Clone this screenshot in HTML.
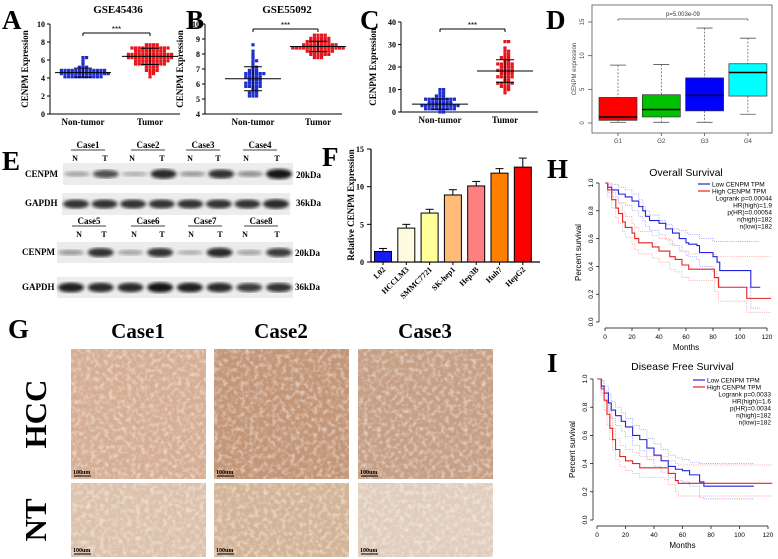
<!DOCTYPE html>
<html><head><meta charset="utf-8"><style>
body{margin:0;background:#fff}
svg{display:block}
</style></head><body>
<svg id="fig" width="778" height="559" viewBox="0 0 778 559" xmlns="http://www.w3.org/2000/svg">
<defs>
<filter id="blur1"><feGaussianBlur stdDeviation="1.6"/></filter>
<filter id="tex" x="0" y="0" width="100%" height="100%">
<feTurbulence type="fractalNoise" baseFrequency="0.22" numOctaves="2" seed="5"/>
<feColorMatrix type="matrix" values="0 0 0 0 1  0 0 0 0 1  0 0 0 0 1  0 0 0 -2.2 1.25"/>
</filter>
</defs>
<g id="root"></g>
</svg>
<script>
// ---------- data ----------
const A_non=[4.0,4.1,4.1,4.2,4.2,4.2,4.3,4.3,4.3,4.3,4.4,4.4,4.4,4.4,4.5,4.5,4.5,4.5,4.5,4.6,4.6,4.6,4.6,4.7,4.7,4.7,4.7,4.8,4.8,4.8,4.8,4.9,4.9,4.9,5.0,5.0,5.1,5.2,5.3,5.5,6.0,6.1,6.2,4.2,4.4];
const A_tum=[4.2,4.4,4.6,4.8,4.9,5.0,5.1,5.2,5.3,5.3,5.4,5.5,5.5,5.6,5.6,5.7,5.7,5.8,5.8,5.8,5.9,5.9,5.9,6.0,6.0,6.0,6.1,6.1,6.1,6.2,6.2,6.2,6.3,6.3,6.3,6.4,6.4,6.4,6.5,6.5,6.5,6.6,6.6,6.6,6.7,6.7,6.7,6.8,6.8,6.8,6.9,6.9,6.9,7.0,7.0,7.0,7.1,7.1,7.1,7.2,7.2,7.2,7.3,7.3,7.3,7.4,7.4,7.5,7.5,7.6,7.6,7.7,7.8,5.0,5.4,5.6,6.0,6.4,6.8,7.2];
const B_non=[5.2,5.2,5.3,5.4,5.5,5.5,5.6,5.7,5.8,5.8,5.9,5.9,6.0,6.0,6.1,6.1,6.2,6.2,6.3,6.3,6.4,6.4,6.5,6.5,6.6,6.6,6.7,6.8,6.8,6.9,7.0,7.0,7.1,7.2,7.3,7.5,7.6,7.8,8.0,8.2,8.6,6.1,5.9,6.4,6.7];
const B_tum=[7.7,7.8,7.8,7.9,7.9,8.0,8.0,8.0,8.1,8.1,8.1,8.2,8.2,8.2,8.3,8.3,8.3,8.3,8.4,8.4,8.4,8.4,8.5,8.5,8.5,8.5,8.6,8.6,8.6,8.6,8.7,8.7,8.7,8.7,8.8,8.8,8.8,8.9,8.9,8.9,9.0,9.0,9.0,9.1,9.1,9.2,9.2,9.3,9.3,8.0,8.2,8.4,8.6,8.8,9.0,8.1,8.3,8.5,8.7];
const C_non=[0.3,0.5,0.8,1.0,1.2,1.5,1.5,1.8,2.0,2.0,2.2,2.5,2.5,2.8,3.0,3.0,3.2,3.5,3.5,3.8,4.0,4.0,4.2,4.5,4.5,4.8,5.0,5.0,5.2,5.5,5.5,5.8,6.0,6.0,6.2,6.5,7.0,7.5,8.0,8.5,10.0,10.5,1.0,2.5,3.5];
const C_tum=[9,10,10.5,11,11.5,12,12.5,13,13,13.5,14,14.5,15,15,15.5,16,16.5,17,17,17.5,18,18,18.5,19,19.5,20,20,20.5,21,21.5,22,22,22.5,23,23.5,24,24,25,26,26.5,27,29,31,31.5,16,19,21,13];
const A_stats=[[4.6,0.5],[6.4,0.9]];
const B_stats=[[6.35,0.8],[8.5,0.35]];
const C_stats=[[3.5,2.3],[18.2,5.0]];
const D_groups=["G1","G2","G3","G4"];
const D_q1=[0.4,0.9,1.8,4.0];
const D_med=[0.9,2.0,4.1,7.5];
const D_q3=[3.8,4.2,6.7,8.8];
const D_lo=[0.1,0.1,0.1,1.3];
const D_hi=[8.6,8.7,14.1,12.6];
const D_ticks=[0,5,10,15];
const F_lines=["L02","HCCLM3","SMMC7721","SK-hep1","Hep3B","Huh7","HepG2"];
const F_vals=[1.4,4.5,6.5,8.9,10.1,11.8,12.6];
const F_err=[0.4,0.5,0.5,0.7,0.6,0.6,1.2];
const F_ticks=[0,5,10,15];
const H_low_t=[0,2,5,10,15,20,25,28,30,33,40,45,50,55,60,62,68,70,80,83,85,108,115];
const H_low_s=[1,0.97,0.95,0.92,0.9,0.87,0.83,0.8,0.76,0.73,0.71,0.67,0.64,0.6,0.57,0.56,0.55,0.5,0.47,0.43,0.37,0.25,0.25];
const H_high_t=[0,2,5,8,10,13,15,20,22,25,35,40,48,52,57,62,81,84,105,123];
const H_high_s=[1,0.95,0.88,0.82,0.78,0.72,0.68,0.64,0.6,0.57,0.54,0.51,0.47,0.45,0.41,0.38,0.32,0.25,0.17,0.17];
const H_low_up=[1,1,0.99,0.97,0.95,0.92,0.88,0.83,0.8,0.77,0.73,0.7,0.67,0.66,0.64,0.63,0.63,0.6,0.58,0.58,0.58,0.58,0.58];
const H_low_dn=[1,0.93,0.9,0.86,0.84,0.8,0.76,0.73,0.69,0.66,0.63,0.59,0.55,0.51,0.48,0.47,0.45,0.4,0.36,0.32,0.25,0.1,0.1];
const H_high_up=[1,0.99,0.93,0.88,0.85,0.79,0.76,0.71,0.68,0.65,0.62,0.6,0.56,0.55,0.51,0.49,0.47,0.47,0.47,0.47];
const H_high_dn=[1,0.9,0.82,0.75,0.71,0.65,0.61,0.56,0.52,0.49,0.46,0.43,0.38,0.36,0.32,0.3,0.22,0.15,0.07,0.07];
const I_low_t=[0,3,5,8,10,13,17,20,25,30,35,40,45,50,55,60,65,72,75,110];
const I_low_s=[1,0.95,0.9,0.83,0.78,0.74,0.7,0.66,0.6,0.57,0.51,0.46,0.42,0.38,0.36,0.35,0.32,0.27,0.24,0.24];
const I_high_t=[0,3,5,7,9,11,13,16,20,25,30,47,50,55,57,123];
const I_high_s=[1,0.93,0.85,0.75,0.65,0.57,0.5,0.45,0.42,0.4,0.37,0.37,0.33,0.28,0.26,0.26];
const I_low_up=[1,0.99,0.95,0.89,0.84,0.8,0.76,0.72,0.67,0.64,0.58,0.54,0.5,0.46,0.44,0.43,0.41,0.4,0.4,0.4];
const I_low_dn=[1,0.9,0.84,0.77,0.72,0.67,0.63,0.59,0.53,0.49,0.43,0.38,0.34,0.3,0.28,0.27,0.24,0.16,0.15,0.15];
const I_high_up=[1,0.98,0.92,0.83,0.73,0.65,0.58,0.53,0.5,0.48,0.45,0.45,0.42,0.4,0.39,0.39];
const I_high_dn=[1,0.88,0.78,0.67,0.57,0.49,0.43,0.38,0.35,0.33,0.3,0.29,0.25,0.2,0.17,0.17];
const surv_ticks_x=[0,20,40,60,80,100,120];
const surv_ticks_y=[0,0.2,0.4,0.6,0.8,1.0];

// ---------- helpers ----------
const NS="http://www.w3.org/2000/svg";
const root=document.getElementById('root');
function el(tag,a,name,parent){
  const e=document.createElementNS(NS,tag);
  for(const k in a) e.setAttribute(k,a[k]);
  
  
  (parent||root).appendChild(e);
  return e;
}
function txt(x,y,s,name,size,fam,extra){
  const a=Object.assign({x:x,y:y,'font-size':size,'font-family':fam==='s'?'"Liberation Sans",sans-serif':'"Liberation Serif",serif'},extra||{});
  if(fam!=='s' && !a['font-weight']) a['font-weight']='bold';
  const t=el('text',a,name);
  t.textContent=s;
  return t;
}
function line(x1,y1,x2,y2,name,stroke,w,dash){
  const a={x1:x1,y1:y1,x2:x2,y2:y2,stroke:stroke||'#000','stroke-width':w||1};
  if(dash) a['stroke-dasharray']=dash;
  return el('line',a,name);
}
function panelLabel(x,y,s){
  txt(x,y,s,'panel-label-'+s.toLowerCase(),27,'r');
}

// ---------- scatter panels ----------
function swarm(vals,cx,yf,color,name){
  const bins={};
  vals.slice().sort((a,b)=>a-b).forEach(v=>{
    const y=yf(v); const b=Math.round(y/3.2);
    bins[b]=(bins[b]||0)+1;
    const n=bins[b]-1;
    const off=(n%2?1:-1)*Math.ceil(n/2)*3.6;
    el('rect',{x:cx+off-1.6,y:b*3.2-1.6,width:3.2,height:3.2,fill:color},name);
  });
}
function stats(cx,yf,m,sd,name){
  line(cx-28,yf(m),cx+28,yf(m),name+'-mean');
  line(cx,yf(m-sd),cx,yf(m+sd),name+'-sd');
  line(cx-9,yf(m-sd),cx+9,yf(m-sd),name+'-sd-cap');
  line(cx-9,yf(m+sd),cx+9,yf(m+sd),name+'-sd-cap');
}
function scatterPanel(o){
  const yf=v=>o.y0-(v-o.vmin)*o.k;
  line(o.ax,yf(o.vmax),o.ax,yf(o.vmin),o.id+'-y-axis','#000',1);
  line(o.ax,yf(o.vmin),o.xend,yf(o.vmin),o.id+'-x-axis','#000',1);
  o.ticks.forEach(t=>{
    line(o.ax-3,yf(t),o.ax,yf(t),o.id+'-y-tick');
    txt(o.ax-5,yf(t)+3,String(t),o.id+'-y-tick-label',8,'r',{'text-anchor':'end'});
  });
  const tx=o.ax-o.tdx, my=(yf(o.vmax)+yf(o.vmin))/2;
  txt(tx,my,'CENPM Expression',o.id+'-y-axis-title',9,'r',{'text-anchor':'middle',transform:'rotate(-90 '+tx+' '+my+')'});
  swarm(o.non,o.c1,yf,'#1d2ccf',o.id+'-nontumor-point');
  swarm(o.tum,o.c2,yf,'#e8141c',o.id+'-tumor-point');
  stats(o.c1,yf,o.st[0][0],o.st[0][1],o.id+'-nontumor');
  stats(o.c2,yf,o.st[1][0],o.st[1][1],o.id+'-tumor');
  txt(o.c1,o.y0+11,'Non-tumor',o.id+'-x-label-nontumor',9,'r',{'text-anchor':'middle'});
  txt(o.c2,o.y0+11,'Tumor',o.id+'-x-label-tumor',9,'r',{'text-anchor':'middle'});
  const by=o.by;
  line(o.c1,by,o.c2,by,o.id+'-sig-bracket');
  line(o.c1,by,o.c1,by+3,o.id+'-sig-bracket');
  line(o.c2,by,o.c2,by+3,o.id+'-sig-bracket');
  txt((o.c1+o.c2)/2,by-1,'***',o.id+'-sig-stars',8,'s',{'text-anchor':'middle'});
  if(o.title) txt(o.tx,13,o.title,o.id+'-title',11,'r',{'text-anchor':'middle'});
}
panelLabel(2,29,'A');
scatterPanel({id:'a',ax:50,y0:114,vmin:0,vmax:10,k:9,xend:180,tdx:22,ticks:[0,2,4,6,8,10],non:A_non,tum:A_tum,st:A_stats,c1:83,c2:150,by:33,title:'GSE45436',tx:118});
panelLabel(186,29,'B');
scatterPanel({id:'b',ax:205,y0:114,vmin:4,vmax:10,k:15,xend:342,tdx:22,ticks:[4,5,6,7,8,9,10],non:B_non,tum:B_tum,st:B_stats,c1:253,c2:318,by:29,title:'GSE55092',tx:287});
panelLabel(360,29,'C');
scatterPanel({id:'c',ax:401,y0:112,vmin:0,vmax:40,k:2.25,xend:538,tdx:25,ticks:[0,10,20,30,40],non:C_non,tum:C_tum,st:C_stats,c1:440,c2:505,by:29});

// ---------- D boxplot ----------
panelLabel(546,29,'D');
(function(){
  const yD=v=>123-v*6.733, xD=i=>618+i*43.3;
  el('rect',{x:592,y:5,width:180,height:128,fill:'none',stroke:'#555','stroke-width':0.8},'d-plot-frame');
  D_ticks.forEach(t=>{
    line(588,yD(t),592,yD(t),'d-y-tick','#555',0.8);
    txt(584,yD(t),String(t),'d-y-tick-label',6,'s',{'text-anchor':'middle',fill:'#444',transform:'rotate(-90 584 '+yD(t)+')'});
  });
  txt(576,69,'CENPM expression','d-y-axis-title',6,'s',{'text-anchor':'middle',fill:'#444',transform:'rotate(-90 576 69)'});
  const cols=['#ff0000','#00c000','#0000ff','#00ffff'];
  D_groups.forEach((g,i)=>{
    const x=xD(i);
    line(x,yD(D_hi[i]),x,yD(D_q3[i]),'d-whisker-'+g,'#555',0.7,'2,1.5');
    line(x,yD(D_q1[i]),x,yD(D_lo[i]),'d-whisker-'+g,'#555',0.7,'2,1.5');
    line(x-8,yD(D_hi[i]),x+8,yD(D_hi[i]),'d-whisker-cap-'+g,'#555',0.8);
    line(x-8,yD(D_lo[i]),x+8,yD(D_lo[i]),'d-whisker-cap-'+g,'#555',0.8);
    el('rect',{x:x-19,y:yD(D_q3[i]),width:38,height:yD(D_q1[i])-yD(D_q3[i]),fill:cols[i],stroke:'#333','stroke-width':0.7},'d-box-'+g);
    line(x-19,yD(D_med[i]),x+19,yD(D_med[i]),'d-median-'+g,'#000',1.5);
    line(x,133,x,136,'d-x-tick','#555',0.8);
    txt(x,143,g,'d-x-tick-label',6,'s',{'text-anchor':'middle',fill:'#444'});
  });
  line(xD(0),19,xD(3),19,'d-sig-bracket','#555',0.7);
  line(xD(0),19,xD(0),21,'d-sig-bracket','#555',0.7);
  line(xD(3),19,xD(3),21,'d-sig-bracket','#555',0.7);
  txt((xD(0)+xD(3))/2,16,'p=5.003e-09','d-p-value',6,'s',{'text-anchor':'middle',fill:'#333'});
})();

// ---------- E western blot ----------
panelLabel(2,170,'E');
function blot(x,y,w,h,ints,name){
  el('rect',{x:x,y:y,width:w,height:h,fill:'#ececec'},name+'-membrane');
  ints.forEach((v,i)=>{
    const cx=x+14+i*(w-28)/7;
    el('ellipse',{cx:cx,cy:y+h/2,rx:13,ry:2+v*3.2,fill:'#111',opacity:0.15+v*0.85,filter:'url(#blur1)'},name+'-band');
  });
}
[[['Case1',88,75,105],['Case2',148,132,162],['Case3',203,190,218],['Case4',260,246,277]],
 [['Case5',89,79,104],['Case6',148,134,162],['Case7',205,191,220],['Case8',261,245,277]]].forEach((grp,gi)=>{
  const yc=gi?224:148, yn=gi?237:161;
  grp.forEach(c=>{
    txt(c[1],yc,c[0],'e-case-label',9,'r',{'text-anchor':'middle'});
    line(c[1]-17,yc+2,c[1]+17,yc+2,'e-case-underline','#000',0.8);
    txt(c[2],yn,'N','e-lane-n',8,'r',{'text-anchor':'middle'});
    txt(c[3],yn,'T','e-lane-t',8,'r',{'text-anchor':'middle'});
  });
});
blot(63,163,230,22,[0.2,0.65,0.15,0.85,0.25,0.8,0.3,0.95],'e-cenpm-blot1');
blot(62,193,228,22,[0.8,0.8,0.8,0.8,0.8,0.8,0.8,0.85],'e-gapdh-blot1');
blot(57,242,236,21,[0.25,0.8,0.2,0.8,0.15,0.85,0.2,0.75],'e-cenpm-blot2');
blot(57,277,236,21,[0.9,0.85,0.85,0.95,0.9,0.85,0.75,0.8],'e-gapdh-blot2');
[['CENPM',25,177],['GAPDH',25,206],['CENPM',22,255],['GAPDH',22,290]].forEach(r=>txt(r[1],r[2],r[0],'e-protein-label',9,'r'));
[['20kDa',296,178],['36kDa',296,206],['20kDa',295,256],['36kDa',295,290]].forEach(r=>txt(r[1],r[2],r[0],'e-mw-label',9,'r'));

// ---------- F bar chart ----------
panelLabel(322,166,'F');
(function(){
  const yF=v=>262-v*7.53, xF=i=>383+i*23.3;
  const cols=['#1a1aee','#fffbe0','#ffff99','#ffbb77','#ff8080','#ff8000','#ff0000'];
  line(371,yF(15),371,262,'f-y-axis','#000',1.2);
  line(371,262,540,262,'f-x-axis','#000',1.2);
  F_ticks.forEach(t=>{
    line(367,yF(t),371,yF(t),'f-y-tick');
    txt(364,yF(t)+3,String(t),'f-y-tick-label',8,'r',{'text-anchor':'end'});
  });
  txt(354,205,'Relative CENPM Expression','f-y-axis-title',9,'r',{'text-anchor':'middle',transform:'rotate(-90 354 205)'});
  F_lines.forEach((n,i)=>{
    const x=xF(i);
    el('rect',{x:x-8.5,y:yF(F_vals[i]),width:17,height:262-yF(F_vals[i]),fill:cols[i],stroke:'#000','stroke-width':1},'f-bar-'+n.toLowerCase());
    line(x,yF(F_vals[i]),x,yF(F_vals[i]+F_err[i]),'f-error-bar-'+n.toLowerCase());
    line(x-4,yF(F_vals[i]+F_err[i]),x+4,yF(F_vals[i]+F_err[i]),'f-error-cap-'+n.toLowerCase());
    line(x,262,x,265,'f-x-tick');
    txt(x+3,270,n,'f-x-tick-label',8,'r',{'text-anchor':'end',transform:'rotate(-45 '+(x+3)+' 270)'});
  });
})();

// ---------- G IHC ----------
panelLabel(8,338,'G');
const gCols=[['#d6ae94','#c39678','#c69f84'],['#dcc2ac','#d4b497','#e0cdbd']];
[['Case1',138],['Case2',281],['Case3',425]].forEach(c=>txt(c[1],338,c[0],'g-column-title-'+c[0].toLowerCase(),21,'r',{'text-anchor':'middle'}));
[71,214,358].forEach((x,ci)=>{
  [[349,130],[483,74]].forEach((r,ri)=>{
    const nm=(ri?'g-nt-image-':'g-hcc-image-')+(ci+1);
    el('rect',{x:x,y:r[0],width:135,height:r[1],fill:gCols[ri][ci]},nm);
    el('rect',{x:x,y:r[0],width:135,height:r[1],filter:'url(#tex)',opacity:0.55},nm+'-texture');
    line(x+3,r[0]+r[1]-3,x+20,r[0]+r[1]-3,'g-scale-bar','#000',1);
    txt(x+2,r[0]+r[1]-5,'100um','g-scale-label',6,'r');
  });
});
txt(46,414,'HCC','g-row-label-hcc',31,'r',{'text-anchor':'middle',transform:'rotate(-90 46 414)'});
txt(46,520,'NT','g-row-label-nt',31,'r',{'text-anchor':'middle',transform:'rotate(-90 46 520)'});

// ---------- H & I survival ----------
function stepPath(ts,ss,xf,yf){
  let d='M'+xf(ts[0])+','+yf(ss[0]);
  for(let i=1;i<ts.length;i++){ d+=' H'+xf(ts[i])+' V'+yf(ss[i]); }
  return d;
}
function survPanel(o){
  const xf=t=>o.x0+t*o.kx, yf=s=>o.y0-s*o.ky;
  txt((xf(0)+xf(120))/2,o.ty,o.title,o.id+'-title',10.5,'s',{'text-anchor':'middle'});
  line(o.ax,yf(0),o.ax,yf(1),o.id+'-y-axis','#000',0.7);
  line(xf(0),o.bx,xf(120),o.bx,o.id+'-x-axis','#000',0.7);
  surv_ticks_y.forEach(s=>{
    line(o.ax-3,yf(s),o.ax,yf(s),o.id+'-y-tick','#000',0.7);
    txt(o.ax-6,yf(s),s.toFixed(1),o.id+'-y-tick-label',6.5,'s',{'text-anchor':'middle',transform:'rotate(-90 '+(o.ax-6)+' '+yf(s)+')'});
  });
  surv_ticks_x.forEach(t=>{
    line(xf(t),o.bx,xf(t),o.bx+3,o.id+'-x-tick','#000',0.7);
    txt(xf(t),o.bx+11,String(t),o.id+'-x-tick-label',6.5,'s',{'text-anchor':'middle'});
  });
  txt((xf(0)+xf(120))/2,o.bx+22,'Months',o.id+'-x-axis-title',8,'s',{'text-anchor':'middle'});
  const my=(yf(0)+yf(1))/2;
  txt(o.ax-18,my,'Percent survival',o.id+'-y-axis-title',8,'s',{'text-anchor':'middle',transform:'rotate(-90 '+(o.ax-18)+' '+my+')'});
  [[o.lt,o.lu,'#8a8aff','low-ci-upper'],[o.lt,o.ld,'#8a8aff','low-ci-lower'],[o.ht,o.hu,'#ff8a8a','high-ci-upper'],[o.ht,o.hd,'#ff8a8a','high-ci-lower']].forEach(c=>{
    el('path',{d:stepPath(c[0],c[1],xf,yf),fill:'none',stroke:c[2],'stroke-width':0.7,'stroke-dasharray':'1,1.2'},o.id+'-'+c[3]);
  });
  el('path',{d:stepPath(o.lt,o.ls,xf,yf),fill:'none',stroke:'#2222dd','stroke-width':1.1},o.id+'-low-curve');
  el('path',{d:stepPath(o.ht,o.hs,xf,yf),fill:'none',stroke:'#e82020','stroke-width':1.1},o.id+'-high-curve');
  const L=o.legx, ly=o.legy;
  line(L,ly,L+12,ly,o.id+'-legend-low-line','#2222dd',1.2);
  line(L,ly+7,L+12,ly+7,o.id+'-legend-high-line','#e82020',1.2);
  txt(L+14,ly+2.5,'Low CENPM TPM',o.id+'-legend-low',6.5,'s');
  txt(L+14,ly+9.5,'High CENPM TPM',o.id+'-legend-high',6.5,'s');
  o.stats.forEach((s,i)=>txt(o.rx,ly+16.5+i*7,s,o.id+'-stat-text',6.5,'s',{'text-anchor':'end'}));
}
panelLabel(547,178,'H');
survPanel({id:'h',x0:605,kx:162/120,y0:322,ky:139,ax:599,bx:328,ty:176,title:'Overall Survival',
  lt:H_low_t,ls:H_low_s,lu:H_low_up,ld:H_low_dn,ht:H_high_t,hs:H_high_s,hu:H_high_up,hd:H_high_dn,
  legx:698,legy:184,rx:772,stats:['Logrank p=0.00044','HR(high)=1.9','p(HR)=0.00054','n(high)=182','n(low)=182']});
panelLabel(547,372,'I');
survPanel({id:'i',x0:597,kx:171/120,y0:520,ky:141,ax:593,bx:526,ty:370,title:'Disease Free Survival',
  lt:I_low_t,ls:I_low_s,lu:I_low_up,ld:I_low_dn,ht:I_high_t,hs:I_high_s,hu:I_high_up,hd:I_high_dn,
  legx:693,legy:380,rx:771,stats:['Logrank p=0.0033','HR(high)=1.6','p(HR)=0.0034','n(high)=182','n(low)=182']});
</script>
</body></html>
